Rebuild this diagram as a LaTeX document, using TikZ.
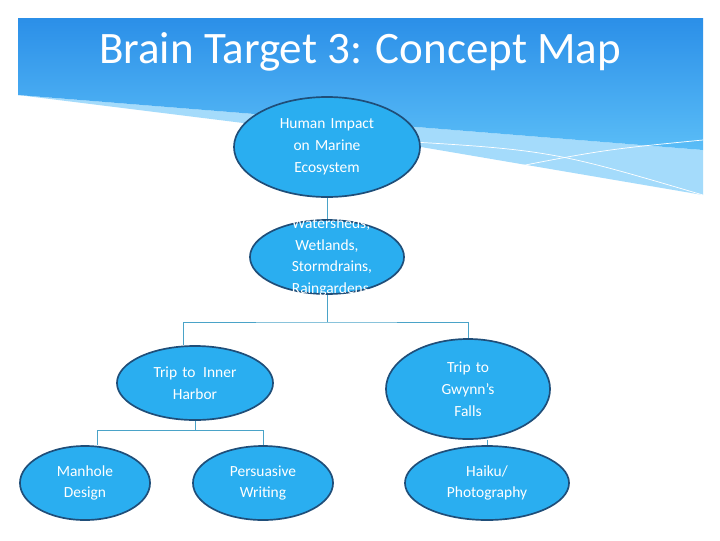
\documentclass[tikz,border=0pt]{standalone}
\usepackage{fontspec}
\setmainfont{Carlito}
\usetikzlibrary{shapes.geometric, positioning}
\definecolor{bubble}{HTML}{2AAEF0}
\definecolor{rim}{HTML}{1F4E79}
\definecolor{wire}{HTML}{4AA3C8}
\definecolor{bandtop}{HTML}{2B8FE8}
\definecolor{bandlow}{HTML}{5ABDF7}
\tikzset{
  idea/.style={ellipse, draw=rim, line width=1.2pt, fill=bubble, text=white,
    inner sep=-14pt, text width=50pt, font=\fontsize{11}{15.5}\selectfont, align=center},
  link/.style={draw=wire, line width=0.6pt}
}
\begin{document}
\begin{tikzpicture}[x=0.025cm, y=-0.025cm]
				\useasboundingbox (0,0) rectangle (720,540);
				\fill[white] (0,0) rectangle (720,540);
				% header band
				\fill[bandlow!55] (18,95) -- (703,150) -- (703,195) -- (380,140) -- cycle;
				\shade[top color=bandtop, bottom color=bandlow] (18,18) -- (703,18) -- (703,150) -- (18,95) -- cycle;
				\draw[white, line width=0.5pt] (380,140) .. controls (550,150) .. (703,195);
				\draw[white, line width=0.5pt] (460,178) .. controls (600,150) .. (703,140);
				\node[text=white, font=\fontsize{32}{36}\selectfont] (title) at (360,52) {Brain Target 3: Concept Map};

				\node[idea, minimum width=4.65cm, minimum height=2.5cm, text width=80pt] (impact) at (327,147)
				  {Human Impact\\on Marine\\Ecosystem};
				\node[idea, minimum width=3.85cm, minimum height=1.85cm] (water) at (327,257)
				  {Watersheds,\\Wetlands,\\Stormdrains,\\Raingardens};
				\node[idea, minimum width=3.9cm, minimum height=1.85cm, text width=80pt] (inner) at (195,383)
				  {Trip to\enspace Inner\\Harbor};
				\node[idea, minimum width=4.1cm, minimum height=2.5cm] (gwynn) at (468,389)
				  {Trip to\\Gwynn’s\\Falls};
				\node[idea, minimum width=3.25cm, minimum height=1.85cm] (manhole) at (85,483)
				  {Manhole\\Design};
				\node[idea, minimum width=3.5cm, minimum height=1.85cm] (writing) at (263,483)
				  {Persuasive\\Writing};
				\node[idea, minimum width=4.1cm, minimum height=1.85cm, text width=70pt] (haiku) at (487,483)
				  {Haiku/\\Photography};

				\coordinate (split1) at (327,322);
				\coordinate (split2) at (195,430);
				\draw[link] (impact) -- (water);
				\draw[link] (water) -- (split1);
				\draw[link] (inner.north -| 183,0) |- (split1) -| (gwynn.north);
				\draw[link] (inner) -- (split2);
				\draw[link] (manhole.north -| 97,0) |- (split2) -| (writing.north);
				\draw[link] (gwynn.south -| 487,0) -- (haiku);
\end{tikzpicture}
\end{document}
